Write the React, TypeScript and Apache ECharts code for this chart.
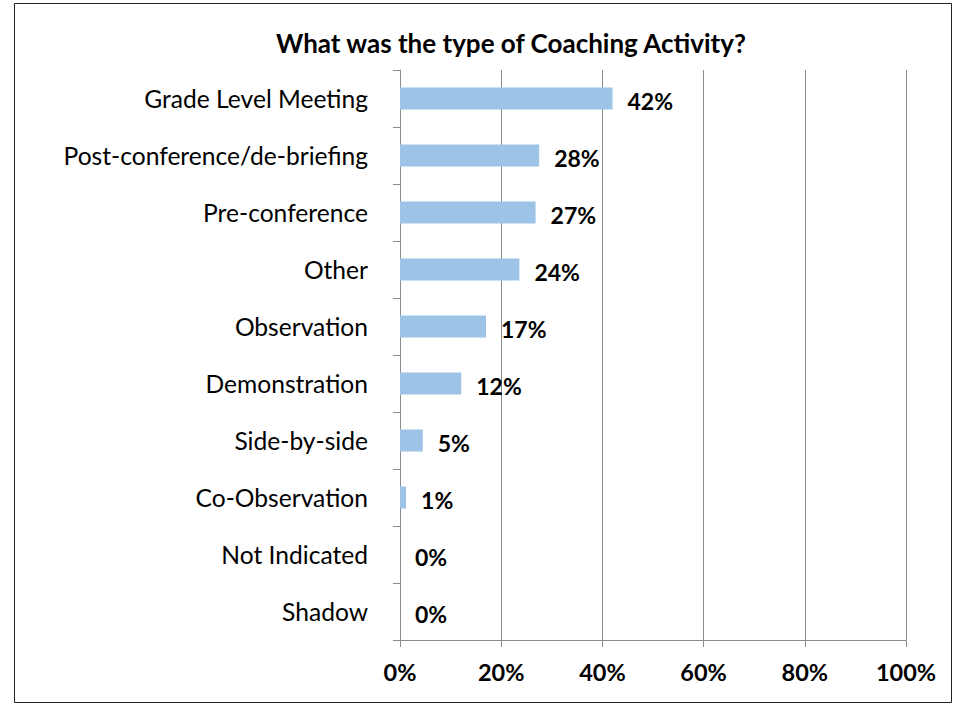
import React, { useEffect, useRef } from "react";
import * as echarts from "echarts";

const titleText = "What was the type of Coaching Activity?";
const categories = [
  "Grade Level Meeting",
  "Post-conference/de-briefing",
  "Pre-conference",
  "Other",
  "Observation",
  "Demonstration",
  "Side-by-side",
  "Co-Observation",
  "Not Indicated",
  "Shadow",
];
const values = [42, 27.5, 26.8, 23.6, 17, 12.1, 4.5, 1.2, 0, 0];
const xTicks = { min: 0, max: 100, interval: 20 };

const FONT = "Lato";

export default function App() {
  const ref = useRef<HTMLDivElement>(null);
  useEffect(() => {
    if (!ref.current) return;
    const chart = echarts.init(ref.current, undefined, { renderer: "svg" });
    chart.setOption({
      animation: false,
      backgroundColor: "#fff",
      textStyle: { fontFamily: FONT },
      graphic: [
        {
          type: "rect",
          shape: { x: 14.5, y: 3.5, width: 937, height: 699 },
          style: { fill: "none", stroke: "#222", lineWidth: 1 },
          silent: true,
        },
        {
          type: "text",
          x: 511,
          y: 43,
          style: {
            text: titleText,
            fontFamily: FONT,
            fontWeight: "bold",
            fontSize: 26,
            fill: "#000",
            textAlign: "center",
            textVerticalAlign: "middle",
          },
        },
      ],
      grid: { left: 400, right: 53, top: 70, bottom: 64, containLabel: false },
      xAxis: {
        type: "value",
        min: xTicks.min,
        max: xTicks.max,
        interval: xTicks.interval,
        axisLine: { show: true, lineStyle: { color: "#8c8c8c", width: 1 } },
        axisTick: { show: true, length: 7, lineStyle: { color: "#8c8c8c" } },
        splitLine: { show: true, lineStyle: { color: "#8c8c8c", width: 1 } },
        axisLabel: {
          formatter: "{value}%",
          fontFamily: FONT,
          fontWeight: "bold",
          fontSize: 23.5,
          color: "#000",
          margin: 20,
        },
      },
      yAxis: {
        type: "category",
        data: categories,
        inverse: true,
        axisLine: { show: true, lineStyle: { color: "#8c8c8c", width: 1 } },
        axisTick: { show: true, length: 7, lineStyle: { color: "#8c8c8c" } },
        axisLabel: {
          fontFamily: FONT,
          fontSize: 24.6,
          color: "#000",
          margin: 32,
        },
      },
      series: [
        {
          type: "bar",
          data: values,
          barWidth: 22,
          itemStyle: { color: "#9DC3E6" },
          label: {
            show: true,
            position: "right",
            distance: 15,
            offset: [0, 2],
            formatter: (p: any) => Math.round(p.value) + "%",
            fontFamily: FONT,
            fontWeight: "bold",
            fontSize: 23,
            color: "#000",
          },
        },
      ],
    });
    return () => chart.dispose();
  }, []);
  return (
    <div
      ref={ref}
      style={{ position: "fixed", left: 0, top: 0, width: 959, height: 704 }}
    />
  );
}
